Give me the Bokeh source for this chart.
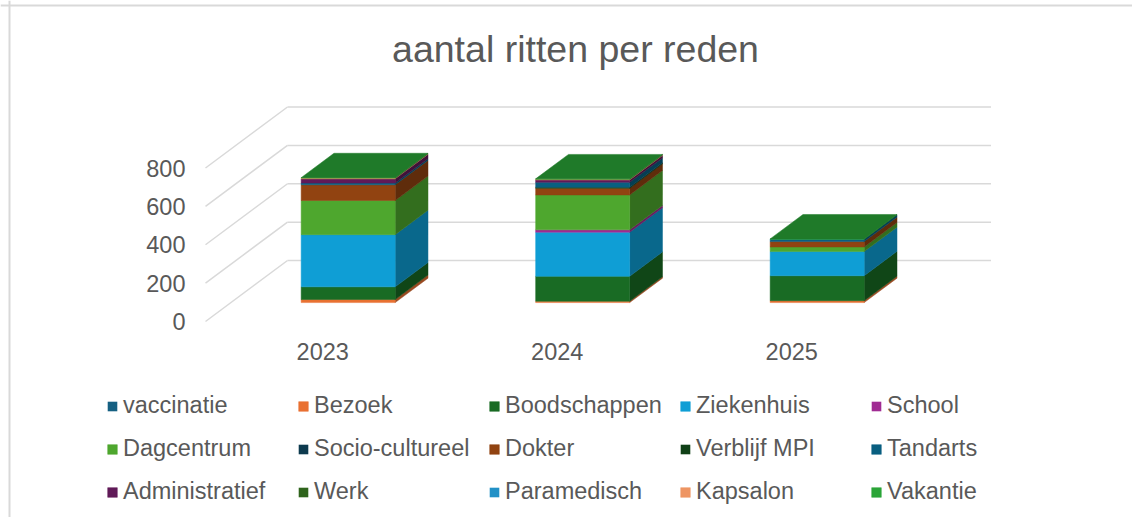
from bokeh.plotting import figure
from bokeh.models import Range1d, Legend, LegendItem, Label, ColumnDataSource, Span
from bokeh.core.properties import value
from bokeh.embed import file_html
from bokeh.resources import INLINE

# ---------------- data ----------------
years = ["2023", "2024", "2025"]
series_names = ["vaccinatie", "Bezoek", "Boodschappen", "Ziekenhuis", "School",
                "Dagcentrum", "Socio-cultureel", "Dokter", "Verblijf MPI", "Tandarts",
                "Administratief", "Werk", "Paramedisch", "Kapsalon", "Vakantie"]
vaccinatie = [0, 0, 0]
bezoek = [16, 7, 10]
boodschappen = [66, 130, 130]
ziekenhuis = [272, 230, 126]
school = [0, 12, 0]
dagcentrum = [178, 182, 24]
socio_cultureel = [0, 0, 0]
dokter = [82, 35, 28]
verblijf_mpi = [0, 5, 0]
tandarts = [9, 26, 12]
administratief = [22, 12, 0]
werk = [0, 0, 0]
paramedisch = [0, 0, 0]
kapsalon = [4, 4, 0]
vakantie = [2, 2, 2]
y_ticks = [0, 200, 400, 600, 800]
y_tick_labels = ["0", "200", "400", "600", "800"]
title_text = "aantal ritten per reden"

series_values = [vaccinatie, bezoek, boodschappen, ziekenhuis, school, dagcentrum,
                 socio_cultureel, dokter, verblijf_mpi, tandarts, administratief,
                 werk, paramedisch, kapsalon, vakantie]
colors = ["#156082", "#E97132", "#196B24", "#0F9ED5", "#A02B93", "#4EA72E",
          "#0D3A4E", "#914311", "#0F4016", "#095F80", "#601A58", "#2F641C",
          "#2190C6", "#EE9563", "#2BA538"]

# ---------------- layout / projection ----------------
W, H = 1132, 517
X0, XS = 205.0, 234.5          # px of category 0 edge at front, px per category
Y0, YS = 321.0, 0.191875       # px of value 0 at front, px per unit
DEPTH_PX_X, DEPTH_PX_Y = 82.0, 61.0
DX = DEPTH_PX_X / XS           # full depth in data units
DY = DEPTH_PX_Y / YS
F1, F2 = 0.31, 0.71            # bar front / back depth fraction
BAR_W = 94.0 / XS

FONT = "Liberation Sans"
TXT = "#595959"
GRID = "#d9d9d9"


def shade(hexc, f):
    h = hexc.lstrip("#")
    r, g, b = int(h[0:2], 16), int(h[2:4], 16), int(h[4:6], 16)
    return "#%02x%02x%02x" % (int(r * f), int(g * f), int(b * f))


p = figure(width=W, height=H,
           x_range=Range1d(-X0 / XS, (W - X0) / XS),
           y_range=Range1d(-(H - Y0) / YS, Y0 / YS),
           x_axis_type=None, y_axis_type=None,
           output_backend="svg", toolbar_location=None,
           min_border=0, outline_line_color=None)
p.grid.visible = False

# chart area border (top / left)
p.add_layout(Span(location=(Y0 - 5.0) / YS, dimension="width", line_color=GRID, line_width=2))
p.add_layout(Span(location=(9.0 - X0) / XS, dimension="height", line_color=GRID, line_width=2))

# walls: back wall gridlines and side wall diagonals
ncat = len(years)
p.multi_line(xs=[[DX, ncat + DX] for v in y_ticks],
             ys=[[v + DY, v + DY] for v in y_ticks],
             line_color=GRID, line_width=1.5)
p.multi_line(xs=[[0, DX] for v in y_ticks],
             ys=[[v, v + DY] for v in y_ticks],
             line_color=GRID, line_width=1.5)

# y tick labels (front edge of side wall)
p.text(x=[-20.0 / XS] * len(y_ticks), y=y_ticks, text=y_tick_labels,
       text_align="right", text_baseline="middle",
       text_font=value(FONT), text_font_size=value("23.5px"), text_color=TXT)

# category labels
p.text(x=[i + 0.5 for i in range(ncat)], y=[-30.0 / YS] * ncat, text=years,
       text_align="center", text_baseline="middle",
       text_font=value(FONT), text_font_size=value("23.5px"), text_color=TXT)

# 3D stacked bars
off = F1 * DY
ddx, ddy = (F2 - F1) * DX, (F2 - F1) * DY
xl = [i + 0.5 + F1 * DX - BAR_W / 2 for i in range(ncat)]
xr = [x + BAR_W for x in xl]
base = [0.0] * ncat
front_renderers = []
for name, vals, col in zip(series_names, series_values, colors):
    bot = base[:]
    top = [b + v for b, v in zip(bot, vals)]
    la = [1.0 if v > 0 else 0.0 for v in vals]
    src = ColumnDataSource(dict(left=xl, right=xr,
                                bottom=[b + off for b in bot],
                                top=[t + off for t in top], la=la))
    # side face
    sx = [[r, r + ddx, r + ddx, r] for r in xr]
    sy = [[b + off, b + off + ddy, t + off + ddy, t + off] for b, t in zip(bot, top)]
    p.patches(xs=sx, ys=sy, fill_color=shade(col, 0.66),
              line_color=shade(col, 0.66), line_width=0.5, line_alpha=la)
    r = p.quad(left="left", right="right", bottom="bottom", top="top", source=src,
               fill_color=col, line_color=col, line_width=0.5, line_alpha="la")
    front_renderers.append(r)
    base = top

# top face (colour of the last series)
tx = [[a, b, b + ddx, a + ddx] for a, b in zip(xl, xr)]
ty = [[t + off, t + off, t + off + ddy, t + off + ddy] for t in base]
p.patches(xs=tx, ys=ty, fill_color=shade(colors[-1], 0.74),
          line_color=shade(colors[-1], 0.74), line_width=0.5)

# title
p.add_layout(Label(x=575, y=H - 48, x_units="screen", y_units="screen",
                   text=title_text, text_align="center", text_baseline="alphabetic",
                   text_font=FONT, text_font_size="37.5px", text_color=TXT))

# legend
items = [LegendItem(label=n, renderers=[r]) for n, r in zip(series_names, front_renderers)]
legend = Legend(items=items, location=(106, 4), orientation="horizontal", ncols=5,
                label_text_font=FONT, label_text_font_size="23.5px", label_text_color=TXT,
                glyph_width=12, glyph_height=12, label_standoff=5,
                label_width=174, label_height=43, spacing=0, padding=0, margin=0,
                border_line_color=None, background_fill_alpha=0)
p.add_layout(legend)

open("out.html", "w").write(file_html(p, INLINE))
